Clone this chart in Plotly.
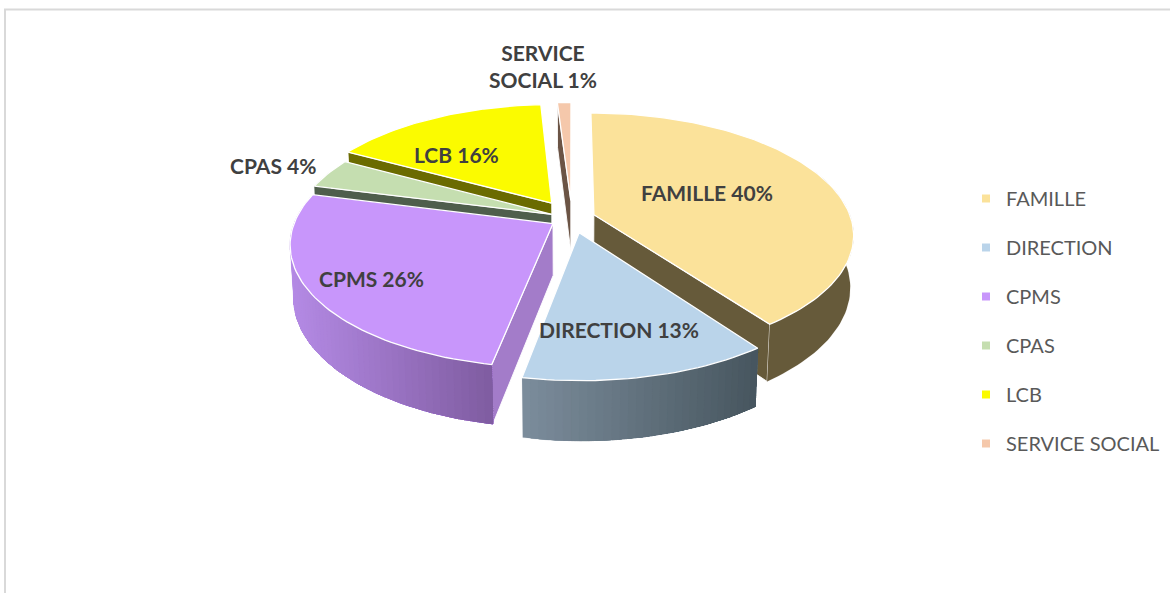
import math
import plotly.graph_objects as go

categories = ["FAMILLE", "DIRECTION", "CPMS", "CPAS", "LCB", "SERVICE SOCIAL"]
values = [40, 13, 26, 4, 16, 1]

top_colors = ["#fbe29a", "#bad4ea", "#c896fb", "#c5deb0", "#fbfb00", "#f5c8ab"]
wall_left = ["#665a3a", "#7b8c9b", "#b48ae5", "#4f5e4c", "#6b6b00", "#6b5445"]
wall_right = ["#665a3a", "#46555e", "#7e5b9f", "#4f5e4c", "#6b6b00", "#6b5445"]
face_colors = ["#665a3a", "#5a6a76", "#a37cc9", "#4f5e4c", "#6b6b00", "#6b5445"]
pulls = [0.09, 0.125, 0.087, 0.085, 0.15, 0.15]
label_pos = [(707, 192), (619, 329), (371, 278), (273, 165), (456, 154), (543, 66)]

CX, CY, SX, SY, DEPTH, PERSP, PERSP_Z = 572, 218, 257, 119, 52, 0.16, 0.012


def project(u, v, z):
    w = 1 + PERSP * v + PERSP_Z * z
    return CX + SX * u / w, CY + (-SY * v + DEPTH * z) / w


def mix(a, b, t):
    pa = [int(a[i:i + 2], 16) for i in (1, 3, 5)]
    pb = [int(b[i:i + 2], 16) for i in (1, 3, 5)]
    return "rgb(%d,%d,%d)" % tuple(round(x + (y - x) * t) for x, y in zip(pa, pb))


def poly(fig, pts, fill, line=None, width=1.0):
    xs = [p[0] for p in pts] + [pts[0][0]]
    ys = [p[1] for p in pts] + [pts[0][1]]
    fig.add_trace(go.Scatter(x=xs, y=ys, mode="lines", fill="toself", fillcolor=fill,
                             line=dict(color=line or fill, width=width),
                             showlegend=False, hoverinfo="skip"))


fig = go.Figure()

# legend entries
for name, col in zip(categories, top_colors):
    fig.add_trace(go.Scatter(x=[None], y=[None], mode="markers", name=name, legendgroup=name,
                             marker=dict(symbol="square", size=8, color=col)))

total = sum(values)
slices = []
start = 0.0
for i, val in enumerate(values):
    end = start + val / total * 2 * math.pi
    slices.append((i, start, end))
    start = end


def mid_v(s):
    return -(math.cos((s[1] + s[2]) / 2))


# painter's order: far slices first
for i, a0, a1 in sorted(slices, key=lambda s: mid_v(s)):
    mid = (a0 + a1) / 2
    du, dv = pulls[i] * math.sin(mid), pulls[i] * math.cos(mid)
    n = max(4, int((a1 - a0) / (2 * math.pi) * 240))
    angles = [a0 + (a1 - a0) * k / n for k in range(n + 1)]
    rim = [(du + math.sin(t), dv + math.cos(t)) for t in angles]

    # cut faces that look toward the viewer
    for ang, visible in ((a0, math.sin(a0) < -1e-6), (a1, math.sin(a1) > 1e-6)):
        if visible:
            ou, ov = du + math.sin(ang), dv + math.cos(ang)
            poly(fig, [project(du, dv, 0), project(ou, ov, 0), project(ou, ov, 1), project(du, dv, 1)],
                 face_colors[i], "rgba(255,255,255,0.9)", 1.0)

    # outer wall: overlapping strips sorted left to right, so no seams show
    vis = [k for k in range(n + 1) if rim[k][1] <= dv + 0.4]
    xs_top = [project(*rim[k], 0)[0] for k in vis]
    xmin, xmax = (min(xs_top), max(xs_top)) if xs_top else (0, 1)
    ordered = sorted(vis)
    left_first = project(*rim[ordered[0]], 0)[0] < project(*rim[ordered[-1]], 0)[0] if ordered else True
    seq = ordered if left_first else ordered[::-1]
    flat = wall_left[i] == wall_right[i]
    steps = [0] if flat else list(range(0, max(len(seq) - 1, 1)))
    for s in steps:
        part = seq[s:]
        if len(part) < 2:
            continue
        xm = project(*rim[part[0]], 0)[0]
        col = mix(wall_left[i], wall_right[i], (xm - xmin) / max(xmax - xmin, 1))
        pts = [project(*rim[k], 0) for k in part] + [project(*rim[k], 1) for k in part[::-1]]
        poly(fig, pts, col, col, 0.1)

    # top surface
    pts = [project(du, dv, 0)] + [project(u, v, 0) for u, v in rim]
    poly(fig, pts, top_colors[i], "white", 1.3)

labels = [f"{c} {v}%" for c, v in zip(categories, values)]
labels[-1] = labels[-1].replace("SERVICE SOCIAL", "SERVICE<br>SOCIAL")
annotations = [dict(x=x, y=y, xref="x", yref="y", text=t, showarrow=False, align="center",
                    font=dict(family="Lato", size=21, color="#404040", weight="bold"))
               for t, (x, y) in zip(labels, label_pos)]

W, H = 1170, 593
fig.update_layout(
    width=W, height=H, autosize=False,
    margin=dict(l=0, r=0, t=0, b=0),
    paper_bgcolor="white", plot_bgcolor="white",
    xaxis=dict(range=[0, W], visible=False, fixedrange=True),
    yaxis=dict(range=[H, 0], visible=False, fixedrange=True),
    annotations=annotations,
    showlegend=True,
    legend=dict(x=966 / W, y=1 - 179 / H, xanchor="left", yanchor="top",
                traceorder="grouped", tracegroupgap=20, bgcolor="rgba(0,0,0,0)",
                font=dict(family="Lato", size=20, color="#595959")),
    shapes=[dict(type="path", xref="x", yref="y",
                 path="M 5 593 L 5 9.5 L 1170 9.5",
                 line=dict(color="#d9d9d9", width=2), layer="below")],
)

fig.write_html("out.html", config={"displayModeBar": False},
               post_script="document.body.style.margin='0';document.body.style.overflow='hidden';")
